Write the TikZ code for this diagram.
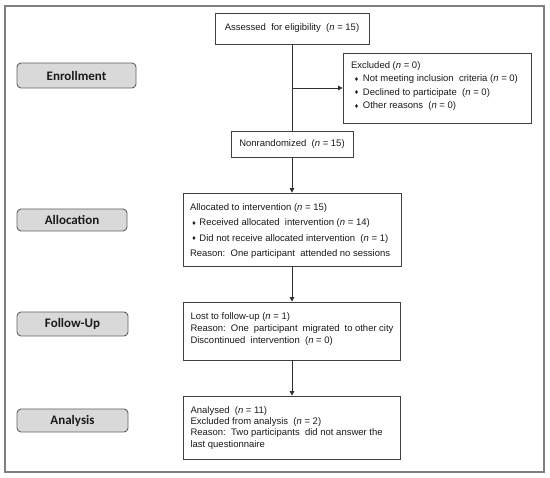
\documentclass[tikz,border=0pt]{standalone}
\usepackage{fontspec}
\setmainfont{Liberation Sans}
\newfontfamily\labfont{Carlito}
\newfontfamily\symfont{DejaVu Sans}
\usetikzlibrary{arrows.meta}
\definecolor{boxgray}{HTML}{404040}
\definecolor{linegray}{HTML}{303030}
\definecolor{framegray}{HTML}{808080}
\definecolor{sidefill}{HTML}{D9D9D9}
\definecolor{sidegray}{HTML}{606060}
\definecolor{txtcol}{HTML}{1A1A1A}
\newcommand{\bulx}{\raisebox{0.6pt}{\symfont\fontsize{5.5}{5.5}\selectfont ♦}}
\newcommand{\nn}{\textit{n}}
\newcommand{\boxfont}{\fontsize{9.5}{11}\selectfont}
% width, height, first-baseline offset, baselineskip, content
\newcommand{\fbtext}[5]{\parbox[c][#2][t]{#1}{\fontsize{9.5}{#4}\selectfont\rule{0pt}{#3}#5}}
\begin{document}
\begin{tikzpicture}[x=1pt,y=-1pt,
  every node/.style={text=txtcol},
  flowbox/.style={draw=boxgray, line width=0.8pt, rectangle, inner xsep=7pt, inner ysep=0pt,
    font=\boxfont},
  sidebox/.style={draw=sidegray, fill=sidefill, rounded corners=4pt, line width=0.9pt, inner sep=0pt,
    font=\labfont\bfseries\fontsize{13}{13}\selectfont},
  conn/.style={draw=linegray, line width=0.8pt},
  arr/.style={conn, -{Triangle[length=4.5pt,width=4.5pt]}}]

\useasboundingbox (0,0) rectangle (550,478);
\draw[framegray, line width=1.5pt] (5,6) rectangle (544,472);

% side labels
\node[sidebox, minimum width=119pt, minimum height=25pt] (enr) at (76.5,75.5) {Enrollment};
\node[sidebox, minimum width=110pt, minimum height=22pt] (allo) at (72,220) {Allocation};
\node[sidebox, minimum width=111pt, minimum height=24pt] (fol) at (72.5,324) {Follow-Up};
\node[sidebox, minimum width=111pt, minimum height=23pt] (ana) at (72.5,420.5) {Analysis};

% flow boxes
\node[flowbox, minimum width=154pt, minimum height=31pt] (assess) at (292,28.5)
  {Assessed\ \ for eligibility\ \ (\nn{} = 15)};
\node[flowbox, inner xsep=8pt] (excl) at (437,88)
  {\fbtext{172pt}{70pt}{15.4pt}{13.5pt}{Excluded (\nn{} = 0)\\
   \hspace*{3pt}\bulx\hspace{4pt}Not meeting inclusion\ \ criteria (\nn{} = 0)\\
   \hspace*{3pt}\bulx\hspace{4pt}Declined to participate\ \ (\nn{} = 0)\\
   \hspace*{3pt}\bulx\hspace{4pt}Other reasons\ \ (\nn{} = 0)}};
\node[flowbox, minimum width=122pt, minimum height=26pt] (nonrand) at (292,144)
  {Nonrandomized\ \ (\nn{} = 15)};
\node[flowbox] (alloc) at (292,229.5)
  {\fbtext{204pt}{73pt}{17.4pt}{15.4pt}{Allocated to intervention (\nn{} = 15)\\
   \hspace*{1.5pt}\bulx\hspace{3pt}Received allocated\ \ intervention (\nn{} = 14)\\
   \hspace*{1.5pt}\bulx\hspace{3pt}Did not receive allocated intervention\ \ (\nn{} = 1)\\
   Reason:\ \ One participant\ \ attended no sessions}};
\node[flowbox] (lost) at (292,331)
  {\fbtext{203pt}{58pt}{17.7pt}{12pt}{Lost to follow-up (\nn{} = 1)\\
   Reason:\ \ One\ \ participant\ \ migrated\ \ to other city\\
   Discontinued\ \ intervention\ \ (\nn{} = 0)}};
\node[flowbox] (anal) at (292,427.5)
  {\fbtext{203pt}{63pt}{17.4pt}{11.3pt}{Analysed\ \ (\nn{} = 11)\\
   Excluded from analysis\ \ (\nn{} = 2)\\
   Reason:\ \ Two participants\ \ did not answer the\\
   last questionnaire}};

% connectors
\coordinate (branch) at (292,88);
\draw[conn] (assess.south) -- (nonrand.north);
\draw[arr] (branch) -- (excl.west);
\draw[arr] (nonrand.south) -- (alloc.north);
\draw[arr] (alloc.south) -- (lost.north);
\draw[arr] (lost.south) -- (anal.north);
\end{tikzpicture}
\end{document}
